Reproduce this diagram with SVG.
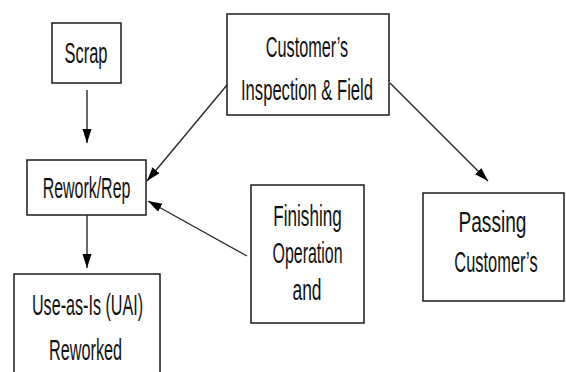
<svg xmlns="http://www.w3.org/2000/svg" width="566" height="372" viewBox="0 0 566 372">
  <style>
    .box { fill: #ffffff; stroke: #1a1a1a; stroke-width: 1.5; }
    .lbl { font-family: "Liberation Sans", Arial, sans-serif; font-size: 29px; fill: #111111; text-anchor: middle; }
    .edge { stroke: #2a2a2a; stroke-width: 1.4; fill: none; marker-end: url(#arrow); }
  </style>
  <defs>
    <marker id="arrow" markerUnits="userSpaceOnUse" markerWidth="15" markerHeight="10" refX="14" refY="4.5" orient="auto">
      <path d="M0,0 L14,4.5 L0,9 z" fill="#000000"/>
    </marker>
  </defs>
  <rect width="566" height="372" fill="#ffffff"/>

  <!-- labels use a condensed (horizontally scaled) sans face -->
  <g id="node-scrap">
    <rect class="box" x="52" y="23" width="69" height="60"/>
    <text class="lbl" transform="translate(86 63) scale(0.568 1)">Scrap</text>
  </g>

  <g id="node-customer-inspection">
    <rect class="box" x="227" y="14" width="162" height="101"/>
    <text class="lbl" transform="translate(307 57) scale(0.56 1)">Customer’s</text>
    <text class="lbl" transform="translate(307 100) scale(0.573 1)">Inspection &amp; Field</text>
  </g>

  <g id="node-rework">
    <rect class="box" x="27" y="160" width="119" height="55"/>
    <text class="lbl" transform="translate(86.5 198) scale(0.55 1)">Rework/Rep</text>
  </g>

  <g id="node-finishing">
    <rect class="box" x="251" y="185" width="113" height="138"/>
    <text class="lbl" transform="translate(307.5 226) scale(0.59 1)">Finishing</text>
    <text class="lbl" transform="translate(307.5 263) scale(0.55 1)">Operation</text>
    <text class="lbl" transform="translate(307 300) scale(0.6 1)">and</text>
  </g>

  <g id="node-passing">
    <rect class="box" x="423" y="193" width="141" height="108"/>
    <text class="lbl" transform="translate(492.5 232) scale(0.66 1)">Passing</text>
    <text class="lbl" transform="translate(496 272) scale(0.566 1)">Customer’s</text>
  </g>

  <g id="node-use-as-is">
    <rect class="box" x="14" y="274" width="146" height="120"/>
    <text class="lbl" transform="translate(87.5 315) scale(0.556 1)">Use-as-Is (UAI)</text>
    <text class="lbl" transform="translate(85.5 360) scale(0.56 1)">Reworked</text>
  </g>

  <g id="connectors">
    <line class="edge" x1="87" y1="90" x2="87" y2="143"/>
    <line class="edge" x1="87" y1="215" x2="87" y2="268"/>
    <line class="edge" x1="227" y1="85" x2="147" y2="181"/>
    <line class="edge" x1="390" y1="83" x2="488" y2="181"/>
    <line class="edge" x1="247" y1="256" x2="148" y2="201"/>
  </g>
</svg>
